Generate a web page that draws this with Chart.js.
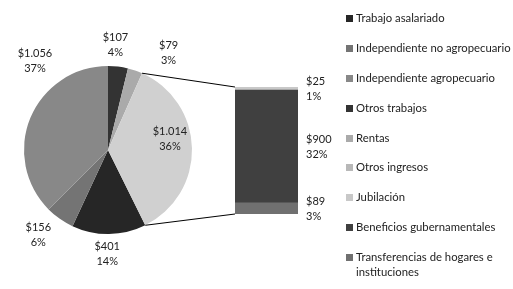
<!DOCTYPE html>
<html>
<head>
<meta charset="utf-8">
<script src="https://cdn.jsdelivr.net/npm/chart.js@4.4.0/dist/chart.umd.min.js"></script>
<style>
  html, body { margin: 0; padding: 0; background: #fff; }
  #wrap { position: relative; width: 513px; height: 289px; overflow: hidden; }
  #wrap canvas { position: absolute; left: 0; top: 0; }
  #legend { position: absolute; left: 342px; top: 11px; width: 170px;
            font-family: Lato, "Open Sans", sans-serif; font-size: 11.3px; color: #222; }
  .item { position: relative; padding-left: 14px; line-height: 14.5px; margin-bottom: 15.4px; white-space: nowrap; }
  .item:last-child { white-space: normal; }
  .box { position: absolute; left: 4px; top: 4px; width: 7px; height: 7px; }
</style>
</head>
<body>
<div id="wrap">
  <canvas id="pie" width="513" height="289"></canvas>
  <canvas id="bar" width="513" height="289"></canvas>
  <div id="legend"></div>
</div>
<script>
// pie (first plot), legend order; last slice is the combined "other" slice
const pieLabels = ['Trabajo asalariado', 'Independiente no agropecuario', 'Independiente agropecuario',
                   'Otros trabajos', 'Rentas', 'Otros'];
const pieValues = [401.49, 156.49, 1055.5, 107.49, 79.49];
const pieColors = ['#262626', '#747474', '#888888', '#333333', '#aaaaaa', '#d0d0d0'];

// bar (second plot), legend order top to bottom
const barLabels = ['Otros ingresos', 'Jubilación', 'Beneficios gubernamentales', 'Transferencias de hogares e instituciones'];
const barValues = [0, 25.49, 900.49, 88.5];
const barColors = ['#b8b8b8', '#c8c8c8', '#404040', '#707070'];

const legendLabels = pieLabels.slice(0, 5).concat(barLabels);
const legendColors = pieColors.slice(0, 5).concat(barColors);

const barTotal = barValues.reduce((a, b) => a + b, 0);
const pieData = pieValues.concat([barTotal]);
const total = pieData.reduce((a, b) => a + b, 0);

const FONT = '11px Lato, "Open Sans", sans-serif';

function money(v) {
    return '$' + String(Math.round(v)).replace(/\B(?=(\d{3})+(?!\d))/g, '.');
}
function pct(v) {
    return Math.round(v / total * 100) + '%';
}

function twoLines(ctx, a, b, x, y, align) {
    ctx.save();
    ctx.font = FONT;
    ctx.fillStyle = '#222';
    ctx.textAlign = align;
    ctx.textBaseline = 'middle';
    ctx.fillText(a, x, y - 7.5);
    ctx.fillText(b, x, y + 7.5);
    ctx.restore();
}

// nudges for the excel "best fit" label spots, same order as pieLabels
const pieNudge = [[-2, 0], [-10, 0], [23, -49], [-5, -2], [27, 1], [-42, -9]];

const pieLabelPlugin = {
    id: 'pieLabels',
    afterDatasetsDraw(chart) {
        const ctx = chart.ctx;
        chart.getDatasetMeta(0).data.forEach((arc, i) => {
            const mid = (arc.startAngle + arc.endAngle) / 2;
            const r = arc.outerRadius + 20;
            const x = arc.x + r * Math.cos(mid) + pieNudge[i][0];
            const y = arc.y + r * Math.sin(mid) + pieNudge[i][1];
            twoLines(ctx, money(pieData[i]), pct(pieData[i]), x, y, 'center');
        });
    }
};

const pieChart = new Chart(document.getElementById('pie'), {
    type: 'pie',
    data: {
        labels: pieLabels,
        datasets: [{
            data: pieData,
            backgroundColor: pieColors,
            borderWidth: 0,
            hoverOffset: 0
        }]
    },
    options: {
        responsive: false,
        animation: false,
        // first slice starts where the slices after it (ending at 12 o'clock) leave off
        rotation: 360 * (pieData[3] + pieData[4] + pieData[5]) / total,
        layout: { padding: { left: 24, top: 66, right: 321, bottom: 55 } },
        plugins: { legend: { display: false }, tooltip: { enabled: false } }
    },
    plugins: [pieLabelPlugin]
});

// stacked from the bottom: reverse of legend order
const stackOrder = barLabels.map((l, i) => i).reverse();

const barPlugin = {
    id: 'barExtras',
    afterDatasetsDraw(chart) {
        const ctx = chart.ctx;
        stackOrder.forEach((idx, d) => {
            const el = chart.getDatasetMeta(d).data[0];
            if (!barValues[idx]) return;
            twoLines(ctx, money(barValues[idx]), pct(barValues[idx]),
                el.x + el.width / 2 + 8, (el.y + el.base) / 2, 'left');
        });

        // connector lines from the "other" slice to the bar
        const arc = pieChart.getDatasetMeta(0).data[pieData.length - 1];
        const el = chart.getDatasetMeta(0).data[0];
        const left = el.x - el.width / 2;
        const yTop = chart.scales.y.getPixelForValue(barTotal);
        const yBot = chart.scales.y.getPixelForValue(0);
        ctx.save();
        ctx.strokeStyle = '#000';
        ctx.lineWidth = 1;
        ctx.beginPath();
        ctx.moveTo(arc.x + arc.outerRadius * Math.cos(arc.startAngle), arc.y + arc.outerRadius * Math.sin(arc.startAngle));
        ctx.lineTo(left, yTop);
        ctx.moveTo(arc.x + arc.outerRadius * Math.cos(arc.endAngle), arc.y + arc.outerRadius * Math.sin(arc.endAngle));
        ctx.lineTo(left, yBot);
        ctx.stroke();
        ctx.restore();
    }
};

new Chart(document.getElementById('bar'), {
    type: 'bar',
    data: {
        labels: [''],
        datasets: stackOrder.map(i => ({
            label: barLabels[i],
            data: [barValues[i]],
            backgroundColor: barColors[i],
            borderWidth: 0,
            barPercentage: 1,
            categoryPercentage: 1
        }))
    },
    options: {
        responsive: false,
        animation: false,
        layout: { padding: { left: 235, right: 215, top: 87, bottom: 75 } },
        scales: {
            x: { display: false, stacked: true },
            y: { display: false, stacked: true, min: 0, max: barTotal }
        },
        plugins: { legend: { display: false }, tooltip: { enabled: false } }
    },
    plugins: [barPlugin]
});

// legend
const legend = document.getElementById('legend');
legendLabels.forEach((l, i) => {
    const it = document.createElement('div');
    it.className = 'item';
    const box = document.createElement('span');
    box.className = 'box';
    box.style.background = legendColors[i];
    it.appendChild(box);
    it.appendChild(document.createTextNode(l));
    legend.appendChild(it);
});
</script>
</body>
</html>
